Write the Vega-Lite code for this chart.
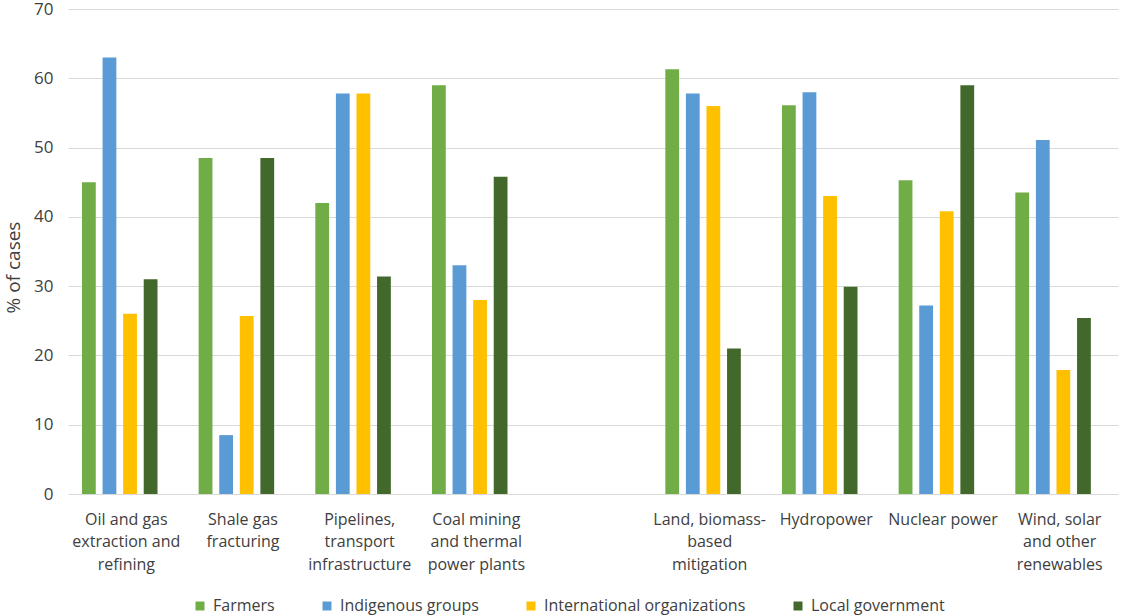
{
  "$schema": "https://vega.github.io/schema/vega-lite/v6.json",
  "autosize": "none",
  "padding": {"left": 68, "top": 9, "right": 5, "bottom": 122},
  "width": 1050,
  "height": 485,
  "config": {
    "font": "Open Sans",
    "view": {"stroke": null},
    "axis": {"labelColor": "#404040", "titleColor": "#404040"}
  },
  "data": {
    "values": [
      {"sector": "Oil and gas extraction and refining", "group": "Farmers", "pct": 45},
      {"sector": "Oil and gas extraction and refining", "group": "Indigenous groups", "pct": 63},
      {"sector": "Oil and gas extraction and refining", "group": "International organizations", "pct": 26},
      {"sector": "Oil and gas extraction and refining", "group": "Local government", "pct": 31},
      {"sector": "Shale gas fracturing", "group": "Farmers", "pct": 48.5},
      {"sector": "Shale gas fracturing", "group": "Indigenous groups", "pct": 8.5},
      {"sector": "Shale gas fracturing", "group": "International organizations", "pct": 25.7},
      {"sector": "Shale gas fracturing", "group": "Local government", "pct": 48.5},
      {"sector": "Pipelines, transport infrastructure", "group": "Farmers", "pct": 42},
      {"sector": "Pipelines, transport infrastructure", "group": "Indigenous groups", "pct": 57.8},
      {"sector": "Pipelines, transport infrastructure", "group": "International organizations", "pct": 57.8},
      {"sector": "Pipelines, transport infrastructure", "group": "Local government", "pct": 31.4},
      {"sector": "Coal mining and thermal power plants", "group": "Farmers", "pct": 59},
      {"sector": "Coal mining and thermal power plants", "group": "Indigenous groups", "pct": 33},
      {"sector": "Coal mining and thermal power plants", "group": "International organizations", "pct": 28},
      {"sector": "Coal mining and thermal power plants", "group": "Local government", "pct": 45.8},
      {"sector": "Land, biomass-based mitigation", "group": "Farmers", "pct": 61.3},
      {"sector": "Land, biomass-based mitigation", "group": "Indigenous groups", "pct": 57.8},
      {"sector": "Land, biomass-based mitigation", "group": "International organizations", "pct": 56},
      {"sector": "Land, biomass-based mitigation", "group": "Local government", "pct": 21},
      {"sector": "Hydropower", "group": "Farmers", "pct": 56.1},
      {"sector": "Hydropower", "group": "Indigenous groups", "pct": 58},
      {"sector": "Hydropower", "group": "International organizations", "pct": 43},
      {"sector": "Hydropower", "group": "Local government", "pct": 29.9},
      {"sector": "Nuclear power", "group": "Farmers", "pct": 45.3},
      {"sector": "Nuclear power", "group": "Indigenous groups", "pct": 27.2},
      {"sector": "Nuclear power", "group": "International organizations", "pct": 40.8},
      {"sector": "Nuclear power", "group": "Local government", "pct": 59},
      {"sector": "Wind, solar and other renewables", "group": "Farmers", "pct": 43.5},
      {"sector": "Wind, solar and other renewables", "group": "Indigenous groups", "pct": 51.1},
      {"sector": "Wind, solar and other renewables", "group": "International organizations", "pct": 17.9},
      {"sector": "Wind, solar and other renewables", "group": "Local government", "pct": 25.4}
    ]
  },
  "mark": {"type": "bar"},
  "encoding": {
    "x": {
      "field": "sector",
      "type": "nominal",
      "sort": null,
      "scale": {
        "domain": [
          "Oil and gas extraction and refining",
          "Shale gas fracturing",
          "Pipelines, transport infrastructure",
          "Coal mining and thermal power plants",
          " ",
          "Land, biomass-based mitigation",
          "Hydropower",
          "Nuclear power",
          "Wind, solar and other renewables"
        ],
        "paddingInner": 0,
        "paddingOuter": 0
      },
      "axis": {
        "title": null,
        "labelAngle": 0,
        "domain": false,
        "ticks": false,
        "labelFontSize": 16,
        "labelPadding": 17,
        "labelLineHeight": 22.5,
        "labelLimit": 0,
        "labelExpr": "datum.value == 'Oil and gas extraction and refining' ? ['Oil and gas', 'extraction and', 'refining'] : datum.value == 'Shale gas fracturing' ? ['Shale gas', 'fracturing'] : datum.value == 'Pipelines, transport infrastructure' ? ['Pipelines,', 'transport', 'infrastructure'] : datum.value == 'Coal mining and thermal power plants' ? ['Coal mining', 'and thermal', 'power plants'] : datum.value == 'Land, biomass-based mitigation' ? ['Land, biomass-', 'based', 'mitigation'] : datum.value == 'Wind, solar and other renewables' ? ['Wind, solar', 'and other', 'renewables'] : datum.value"
      }
    },
    "xOffset": {
      "field": "group",
      "type": "nominal",
      "scale": {
        "domain": ["Farmers", "Indigenous groups", "International organizations", "Local government"],
        "paddingInner": 0.33,
        "paddingOuter": 1.08,
        "align": 0.34
      }
    },
    "y": {
      "field": "pct",
      "type": "quantitative",
      "scale": {"domain": [0, 70]},
      "axis": {
        "title": "% of cases",
        "titleFontSize": 19,
        "titleFontWeight": "normal",
        "titlePadding": 10,
        "titleY": 258,
        "values": [0, 10, 20, 30, 40, 50, 60, 70],
        "labelFontSize": 17,
        "labelPadding": 15,
        "ticks": false,
        "domain": false,
        "gridColor": "#d9d9d9",
        "gridWidth": 1
      }
    },
    "color": {
      "field": "group",
      "type": "nominal",
      "scale": {
        "domain": ["Farmers", "Indigenous groups", "International organizations", "Local government"],
        "range": ["#70AD47", "#5B9BD5", "#FFC000", "#43682B"]
      },
      "legend": {
        "title": null,
        "orient": "none",
        "legendX": 124,
        "legendY": 589,
        "direction": "horizontal",
        "columns": 4,
        "columnPadding": 44,
        "padding": 0,
        "symbolType": "square",
        "symbolSize": 81,
        "symbolStrokeWidth": 0,
        "labelOffset": 5,
        "labelFontSize": 16,
        "labelLimit": 0,
        "labelColor": "#404040"
      }
    }
  }
}
